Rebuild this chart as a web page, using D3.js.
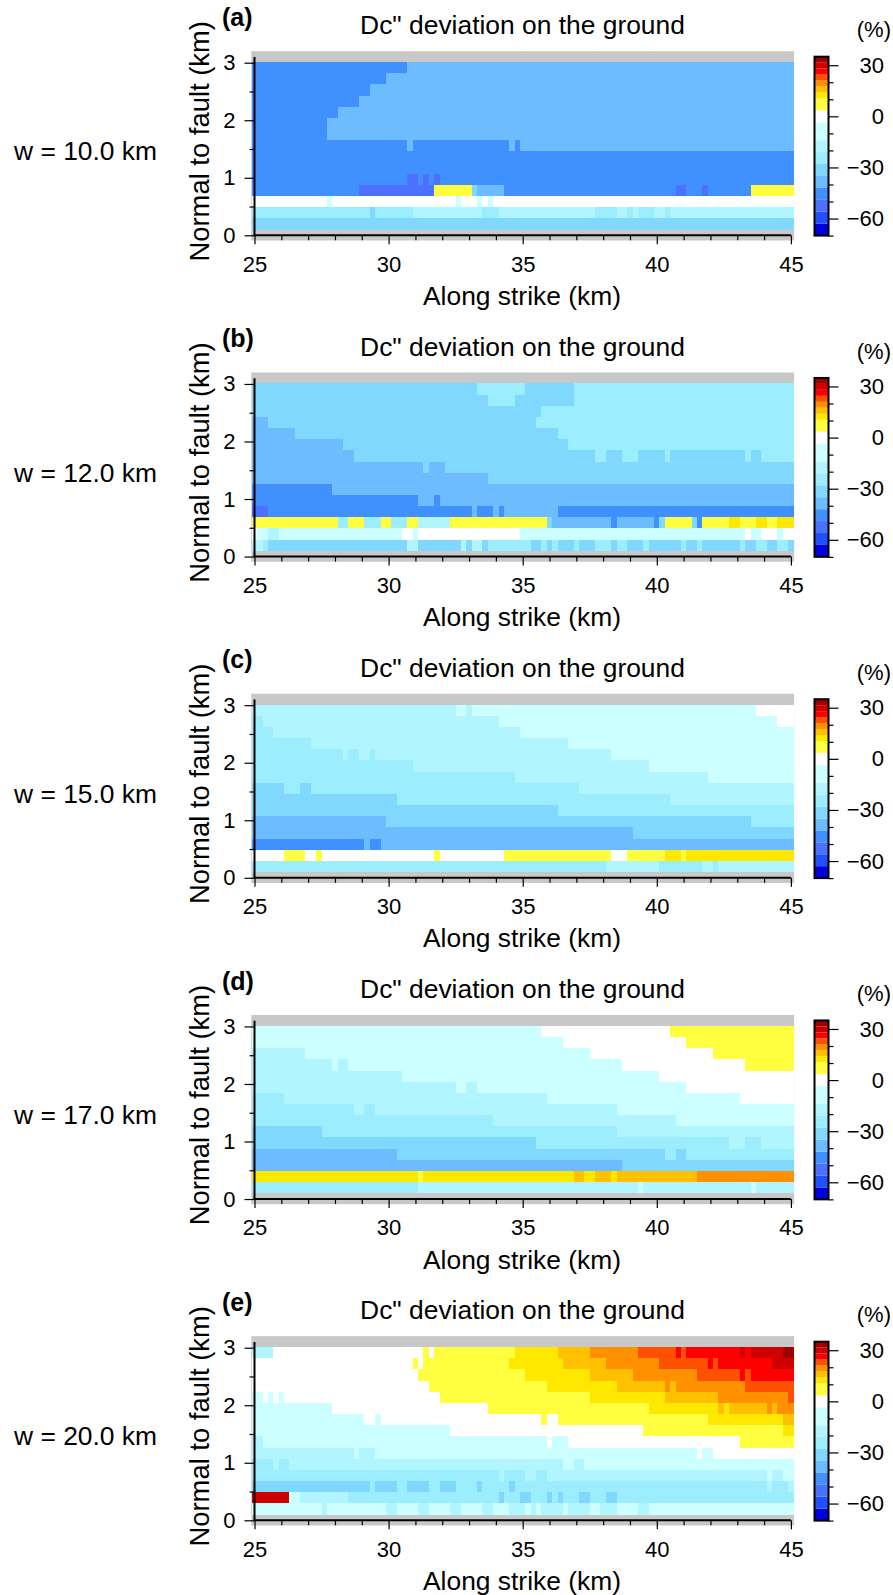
<!DOCTYPE html>
<html>
<head>
<meta charset="utf-8">
<script src="https://cdnjs.cloudflare.com/ajax/libs/d3/7.8.5/d3.min.js"></script>
<style>
    html, body { margin: 0; padding: 0; background: #fff; }
    text { font-family: "Liberation Sans", Arial, sans-serif; fill: #000; }
    .domain { display: none; }
</style>
</head>
<body>
<div id="chart"></div>
<script>
// Colour bands of the scale bar (%)
const bandEdges = [-63, -56, -49, -42, -35, -28, -21, -14, -3.5, 3.5, 10.5, 14, 17.5, 21, 24.5, 28, 31.5];
const bandColors = ["#0000dc", "#2050ff", "#4c70ff", "#4090ff", "#6cbcff", "#80d8ff", "#9ceeff", "#b0f5ff", "#ccffff",
    "#ffffff", "#ffff40", "#ffe800", "#ffc000", "#ff9000", "#ff5000", "#ff0000", "#d00000", "#a00000"];
const barDomain = [-70, 35];
const barTicks = [-60, -30, 0, 30];
const barMinorTicks = [-70, -50, -40, -20, -10, 10, 20];

const xMajorTicks = [25, 30, 35, 40, 45];
const xMinorTicks = [26, 27, 28, 29, 31, 32, 33, 34, 36, 37, 38, 39, 41, 42, 43, 44];
const yMajorTicks = [0, 1, 2, 3];
const yMinorTicks = [0.5, 1.5, 2.5];

// Lower edge of every grid row, km normal to fault, plus the top of the last one
const rowEdges = [0.1, 0.294, 0.488, 0.682, 0.876, 1.07, 1.264, 1.458, 1.652, 1.846, 2.04, 2.234, 2.428, 2.622, 2.816, 3.01];
const gridStart = 24.9;

// Rows go bottom to top, each row is a list of [x where the run ends (km), value (%)]
const panelA = [
    [[45.1, -31]],
    [[29.3, -24], [29.5, -31], [30.9, -24], [33.5, -17], [34.1, -24], [37.7, -17], [38.5, -24], [38.9, -17], [39.1, -24], [39.3, -17], [39.9, -24], [40.3, -17], [40.5, -24], [45.1, -17]],
    [[27.7, 0], [27.9, -9], [32.5, 0], [32.7, -9], [33.3, 0], [33.5, -9], [33.7, 0], [33.9, -9], [45.1, 0]],
    [[28.9, -45], [31.7, -52], [33.1, 7], [33.3, -31], [34.3, -38], [40.7, -45], [41.1, -52], [41.7, -45], [41.9, -52], [43.5, -45], [45.1, 7]],
    [[30.7, -45], [31.1, -52], [31.3, -45], [31.5, -52], [31.7, -45], [31.9, -52], [45.1, -45]],
    [[45.1, -45]],
    [[45.1, -45]],
    [[30.7, -45], [30.9, -38], [34.5, -45], [34.7, -38], [34.9, -45], [45.1, -38]],
    [[27.7, -45], [45.1, -38]],
    [[27.7, -45], [45.1, -38]],
    [[28.1, -45], [45.1, -38]],
    [[28.9, -45], [45.1, -38]],
    [[29.3, -45], [45.1, -38]],
    [[29.9, -45], [45.1, -38]],
    [[30.7, -45], [45.1, -38]]
];

const panelB = [
    [[25.3, -17], [25.5, -24], [30.7, -31], [31.1, -17], [32.7, -31], [32.9, -17], [33.1, -31], [33.5, -17], [33.7, -31], [35.3, -24], [35.7, -31], [35.9, -24], [36.1, -31], [36.3, -24], [36.9, -31], [37.1, -24], [37.7, -31], [38.3, -24], [38.5, -31], [38.9, -24], [39.5, -31], [39.7, -24], [40.9, -31], [41.1, -24], [41.5, -31], [41.7, -24], [43.1, -31], [43.3, -24], [43.7, -31], [44.1, -24], [44.5, -31], [44.9, -24], [45.1, -31]],
    [[25.1, 0], [25.5, -9], [25.9, -17], [30.5, -9], [30.9, 0], [31.1, -9], [34.9, 0], [43.3, -9], [43.5, 0], [43.9, -9], [44.5, 0], [44.7, -9], [45.1, 0]],
    [[28.1, 7], [28.5, -24], [29.1, 7], [29.7, -24], [30.1, 7], [30.7, -24], [31.1, 7], [32.3, -17], [35.9, 7], [36.1, -31], [38.3, -38], [38.5, -45], [39.9, -38], [40.1, -45], [40.3, -31], [41.3, 7], [41.5, -31], [41.7, -45], [42.7, 7], [43.1, 12], [43.7, 7], [44.1, 12], [44.5, 7], [45.1, 12]],
    [[25.5, -52], [33.1, -45], [33.3, -38], [33.9, -45], [34.1, -38], [34.3, -45], [36.3, -38], [45.1, -45]],
    [[31.1, -45], [31.7, -38], [31.9, -45], [45.1, -38]],
    [[27.9, -45], [45.1, -38]],
    [[33.7, -38], [45.1, -31]],
    [[31.3, -38], [31.5, -31], [32.1, -38], [45.1, -31]],
    [[28.7, -38], [37.7, -31], [38.1, -24], [38.7, -31], [39.3, -24], [40.3, -31], [40.5, -24], [43.3, -31], [43.5, -24], [43.9, -31], [45.1, -24]],
    [[28.3, -38], [36.7, -31], [45.1, -24]],
    [[26.5, -38], [36.3, -31], [45.1, -24]],
    [[25.5, -38], [35.5, -31], [45.1, -24]],
    [[35.7, -31], [45.1, -24]],
    [[33.7, -31], [34.7, -24], [36.9, -31], [45.1, -24]],
    [[33.3, -31], [35.1, -24], [36.9, -31], [45.1, -24]]
];

const panelC = [
    [[38.1, -24], [40.1, -17], [41.7, -24], [42.1, -17], [42.3, -24], [45.1, -17]],
    [[26.1, 0], [26.9, 7], [27.3, 0], [27.5, 7], [31.7, 0], [31.9, 7], [34.3, 0], [38.3, 7], [38.9, 0], [40.3, 7], [40.9, 12], [41.1, 7], [45.1, 12]],
    [[29.1, -45], [29.3, -38], [29.7, -45], [45.1, -38]],
    [[39.1, -38], [45.1, -31]],
    [[29.9, -38], [43.5, -31], [45.1, -24]],
    [[36.3, -31], [45.1, -24]],
    [[30.3, -31], [40.5, -24], [45.1, -17]],
    [[26.1, -31], [26.7, -24], [27.1, -31], [37.1, -24], [45.1, -17]],
    [[34.7, -24], [41.9, -17], [45.1, -9]],
    [[30.9, -24], [39.7, -17], [45.1, -9]],
    [[28.3, -24], [28.5, -17], [28.9, -24], [29.3, -17], [29.5, -24], [38.3, -17], [45.1, -9]],
    [[27.1, -24], [36.7, -17], [45.1, -9]],
    [[25.7, -24], [34.9, -17], [45.1, -9]],
    [[25.3, -24], [34.1, -17], [44.5, -9], [45.1, 0]],
    [[32.5, -17], [32.9, -9], [33.1, -17], [43.7, -9], [45.1, 0]]
];

const panelD = [
    [[31.1, -24], [39.3, -17], [39.5, -9], [43.5, -17], [43.7, -9], [45.1, -17]],
    [[31.1, 12], [31.3, 7], [36.9, 12], [37.3, 15], [37.7, 12], [38.3, 15], [38.5, 12], [41.5, 15], [45.1, 19]],
    [[38.7, -38], [45.1, -31]],
    [[30.3, -38], [40.3, -31], [40.7, -24], [41.1, -31], [45.1, -24]],
    [[35.5, -31], [42.7, -24], [43.3, -17], [43.9, -24], [45.1, -17]],
    [[27.5, -31], [38.5, -24], [45.1, -17]],
    [[33.9, -24], [40.7, -17], [45.1, -9]],
    [[28.7, -24], [29.1, -17], [29.5, -24], [38.5, -17], [45.1, -9]],
    [[26.1, -24], [35.9, -17], [43.1, -9], [45.1, 0]],
    [[32.5, -17], [32.9, -9], [33.3, -17], [41.1, -9], [45.1, 0]],
    [[30.5, -17], [40.1, -9], [45.1, 0]],
    [[27.9, -17], [28.1, -9], [28.5, -17], [38.7, -9], [43.3, 0], [45.1, 7]],
    [[26.9, -17], [37.5, -9], [42.1, 0], [45.1, 7]],
    [[36.5, -9], [41.1, 0], [45.1, 7]],
    [[35.7, -9], [40.5, 0], [45.1, 7]]
];

const panelE = [
    [[27.5, -9], [27.7, -17], [29.9, -9], [30.3, -17], [31.1, -9], [31.5, -17], [32.3, -9], [32.7, -17], [33.5, -9], [33.9, -17], [34.5, -9], [35.1, -17], [35.3, -9], [35.5, -17], [35.7, -9], [36.5, -17], [36.7, -9], [37.5, -17], [37.9, -9], [38.5, -17], [39.3, -9], [39.7, -17], [45.1, -9]],
    [[26.3, 29], [26.7, -9], [28.5, -17], [34.1, -24], [34.3, -31], [34.9, -24], [35.3, -31], [35.9, -24], [36.1, -31], [36.3, -24], [36.5, -31], [37.1, -24], [37.5, -31], [38.1, -24], [38.5, -31], [45.1, -24]],
    [[29.3, -31], [29.5, -24], [30.3, -31], [30.7, -24], [31.5, -31], [31.9, -24], [32.5, -31], [33.3, -24], [33.5, -31], [34.5, -24], [34.7, -31], [44.1, -24], [44.3, -17], [44.9, -24], [45.1, -17]],
    [[34.1, -24], [34.3, -17], [35.1, -24], [35.5, -17], [35.9, -24], [44.1, -17], [44.3, -9], [44.7, -17], [45.1, -9]],
    [[25.7, -24], [25.9, -17], [26.3, -24], [36.5, -17], [36.9, -9], [37.3, -17], [45.1, -9]],
    [[28.7, -17], [28.9, -9], [29.5, -17], [41.5, -9], [41.7, 0], [42.1, -9], [45.1, 0]],
    [[25.3, -17], [35.9, -9], [36.1, 0], [36.7, -9], [43.1, 0], [45.1, 7]],
    [[32.3, -9], [39.5, 0], [44.7, 7], [45.1, 12]],
    [[29.1, -9], [29.5, 0], [29.7, -9], [35.7, 0], [35.9, 7], [36.3, 0], [41.9, 7], [44.7, 12], [45.1, 15]],
    [[27.9, -9], [33.7, 0], [39.7, 7], [42.3, 12], [42.5, 15], [42.7, 12], [44.1, 15], [44.3, 19], [44.5, 15], [45.1, 19]],
    [[25.3, -9], [25.5, 0], [25.7, -9], [25.9, 0], [26.1, -9], [31.9, 0], [37.5, 7], [40.3, 12], [42.3, 15], [44.9, 19], [45.1, 22]],
    [[31.5, 0], [35.9, 7], [38.5, 12], [40.3, 15], [40.5, 19], [40.7, 15], [43.3, 19], [45.1, 22]],
    [[31.1, 0], [35.1, 7], [37.5, 12], [39.1, 15], [41.5, 19], [43.1, 22], [43.3, 26], [43.5, 22], [45.1, 26]],
    [[30.9, 0], [31.1, 7], [31.3, 0], [34.5, 7], [36.5, 12], [38.1, 15], [40.1, 19], [41.9, 22], [42.1, 26], [42.3, 22], [44.3, 26], [45.1, 29]],
    [[25.7, -17], [31.3, 0], [31.5, 7], [31.7, 0], [34.7, 7], [36.3, 12], [37.5, 15], [39.3, 19], [40.7, 22], [40.9, 26], [41.1, 22], [43.1, 26], [43.3, 29], [43.5, 26], [44.7, 29], [45.1, 33]]
];

const panels = [panelA, panelB, panelC, panelD, panelE];
const panelLetters = ["(a)", "(b)", "(c)", "(d)", "(e)"];
const widthLabels = ["w = 10.0 km", "w = 12.0 km", "w = 15.0 km", "w = 17.0 km", "w = 20.0 km"];

// Layout of one panel, the five are stacked at a fixed step
const firstZeroY = 235.3;
const panelStep = 321.25;
const plotHeight = 172.6;

const xScale = d3.scaleLinear().domain([25, 45]).range([254.5, 790.9]);
const yScale = d3.scaleLinear().domain([0, 3]).range([0, -plotHeight]);
const colorScale = d3.scaleThreshold().domain(bandEdges).range(bandColors);
const barScale = d3.scaleLinear().domain(barDomain).range([0.3, -178.6]);

const svg = d3.select("#chart")
    .append("svg")
    .attr("width", 893)
    .attr("height", 1595)
    .style("display", "block");

panels.forEach((rows, i) => {
    const g = svg.append("g")
        .attr("transform", `translate(0,${firstZeroY + i * panelStep})`);

    // Grey cells where there is no data
    g.append("rect")
        .attr("x", xScale(24.88))
        .attr("y", yScale(3.2))
        .attr("width", xScale(45.12) - xScale(24.88))
        .attr("height", yScale(-0.09) - yScale(3.2))
        .attr("fill", "#c8c8c8");

    // Flatten the runs into one record per rectangle
    const runs = [];
    rows.forEach((row, r) => {
        let start = gridStart;
        row.forEach(([end, value]) => {
            runs.push({ x0: start, x1: end, y0: rowEdges[r], y1: rowEdges[r + 1], value: value });
            start = end;
        });
    });

    g.selectAll(".cell")
        .data(runs)
        .enter().append("rect")
        .attr("class", "cell")
        .attr("x", d => xScale(d.x0))
        .attr("y", d => yScale(d.y1))
        .attr("width", d => xScale(d.x1) - xScale(d.x0))
        .attr("height", d => yScale(d.y0) - yScale(d.y1))
        .attr("fill", d => colorScale(d.value))
        .attr("shape-rendering", "crispEdges");

    // x axis
    g.append("g")
        .attr("class", "x-axis-minor")
        .call(d3.axisBottom(xScale).tickValues(xMinorTicks).tickSize(5).tickFormat(""))
        .selectAll("line").attr("stroke-width", 1.2);

    const xAxis = g.append("g")
        .attr("class", "x-axis")
        .call(d3.axisBottom(xScale).tickValues(xMajorTicks).tickSize(9).tickPadding(11.7).tickFormat(d3.format("d")));
    xAxis.selectAll("line").attr("stroke-width", 1.2);
    xAxis.selectAll("text").style("font-size", "22px");

    // y axis
    g.append("g")
        .attr("class", "y-axis-minor")
        .attr("transform", `translate(${xScale(25)},0)`)
        .call(d3.axisLeft(yScale).tickValues(yMinorTicks).tickSize(5).tickFormat(""))
        .selectAll("line").attr("stroke-width", 1.2);

    const yAxis = g.append("g")
        .attr("class", "y-axis")
        .attr("transform", `translate(${xScale(25)},0)`)
        .call(d3.axisLeft(yScale).tickValues(yMajorTicks).tickSize(10).tickPadding(9).tickFormat(d3.format("d")));
    yAxis.selectAll("line").attr("stroke-width", 1.2);
    yAxis.selectAll("text").style("font-size", "22px");

    // Axis lines, thicker than the ticks
    g.append("line")
        .attr("x1", xScale(25) - 1).attr("x2", xScale(45)).attr("y1", 0).attr("y2", 0)
        .attr("stroke", "#000").attr("stroke-width", 2);
    g.append("line")
        .attr("x1", xScale(25)).attr("x2", xScale(25)).attr("y1", 0).attr("y2", yScale(3.1))
        .attr("stroke", "#000").attr("stroke-width", 2);

    // Panel texts
    g.append("text")
        .attr("x", 222)
        .attr("y", -209.5)
        .style("font-size", "25px")
        .style("font-weight", "bold")
        .text(panelLetters[i]);

    g.append("text")
        .attr("x", 522.5)
        .attr("y", -201)
        .attr("text-anchor", "middle")
        .style("font-size", "26.4px")
        .text("Dc\" deviation on the ground");

    g.append("text")
        .attr("x", 522)
        .attr("y", 69.5)
        .attr("text-anchor", "middle")
        .style("font-size", "26.4px")
        .text("Along strike (km)");

    g.append("text")
        .attr("transform", "rotate(-90)")
        .attr("x", 94)
        .attr("y", 208.7)
        .attr("text-anchor", "middle")
        .style("font-size", "27.4px")
        .text("Normal to fault (km)");

    g.append("text")
        .attr("x", 14)
        .attr("y", -75)
        .style("font-size", "26.4px")
        .text(widthLabels[i]);

    // Colour bar
    const bar = g.append("g").attr("transform", "translate(814.5,0)");
    const bandStops = [barDomain[0], ...bandEdges, barDomain[1]];
    bar.selectAll(".band")
        .data(bandColors)
        .enter().append("rect")
        .attr("class", "band")
        .attr("x", 0)
        .attr("y", (d, k) => barScale(bandStops[k + 1]))
        .attr("width", 14)
        .attr("height", (d, k) => barScale(bandStops[k]) - barScale(bandStops[k + 1]))
        .attr("fill", d => d);
    bar.append("rect")
        .attr("x", 0)
        .attr("y", barScale(barDomain[1]))
        .attr("width", 14)
        .attr("height", barScale(barDomain[0]) - barScale(barDomain[1]))
        .attr("fill", "none")
        .attr("stroke", "#000")
        .attr("stroke-width", 2);

    const barAxis = bar.append("g")
        .attr("transform", "translate(14,0)")
        .call(d3.axisRight(barScale).tickValues(barTicks).tickSize(10).tickPadding(0).tickFormat(d3.format("d")));
    barAxis.selectAll("line").attr("stroke-width", 1.2);
    barAxis.selectAll("text")
        .attr("x", 55.5)
        .attr("text-anchor", "end")
        .style("font-size", "22px")
        .text(d => d < 0 ? "\u2212" + Math.abs(d) : d);

    bar.append("g")
        .attr("transform", "translate(14,0)")
        .call(d3.axisRight(barScale).tickValues(barMinorTicks).tickSize(5).tickFormat(""))
        .selectAll("line").attr("stroke-width", 1.2);

    g.append("text")
        .attr("x", 891)
        .attr("y", -198)
        .attr("text-anchor", "end")
        .style("font-size", "22px")
        .text("(%)");
});
</script>
</body>
</html>
